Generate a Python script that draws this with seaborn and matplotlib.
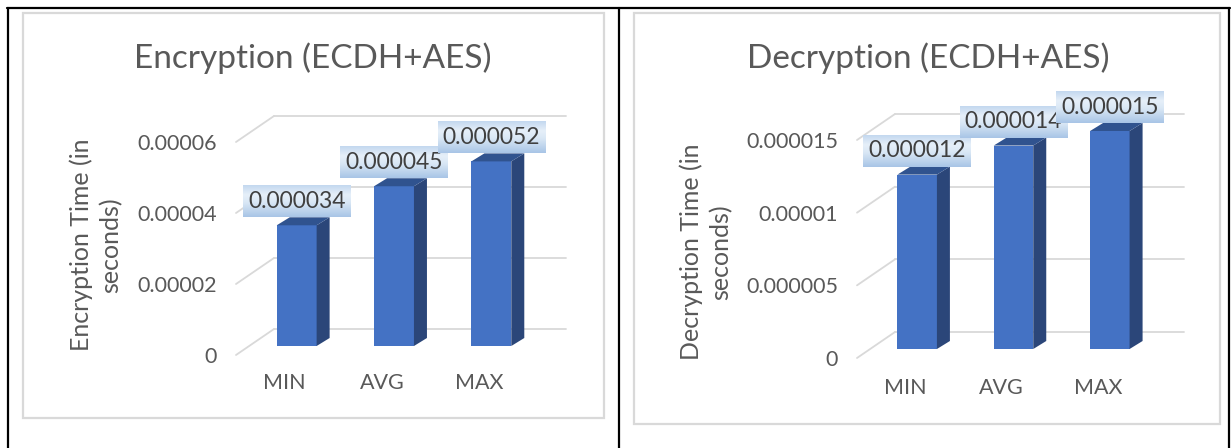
import matplotlib
matplotlib.use("Agg")
import numpy as np
import pandas as pd
import seaborn as sns
import matplotlib.pyplot as plt
from matplotlib.colors import to_rgb
from matplotlib.lines import Line2D
from matplotlib.patches import Polygon, Rectangle
from matplotlib.transforms import ScaledTranslation

# ---- data -------------------------------------------------------------
categories = ["MIN", "AVG", "MAX"]
enc_seconds = [0.000034, 0.000045, 0.000052]
dec_seconds = [0.000012, 0.000014, 0.000015]
enc_value_labels = ["0.000034", "0.000045", "0.000052"]
dec_value_labels = ["0.000012", "0.000014", "0.000015"]
enc_yticks = [0, 0.00002, 0.00004, 0.00006]
enc_yticklabels = ["0", "0.00002", "0.00004", "0.00006"]
dec_yticks = [0, 0.000005, 0.00001, 0.000015]
dec_yticklabels = ["0", "0.000005", "0.00001", "0.000015"]

# ---- style --------------------------------------------------------------
W, H, DPI = 1231, 448, 100
FRONT = "#4472C4"
SIDE = "#2B4679"
TOP = "#30538F"
GRID = "#D9D9D9"
TEXT = "#595959"
LABEL = "#404040"

sns.set_theme(style="white")
plt.rcParams["font.family"] = ["Lato", "DejaVu Sans"]

fig = plt.figure(figsize=(W / DPI, H / DPI), dpi=DPI, facecolor="white")


def shift(dx, dy):
    """Translation in pixels (dy positive = up)."""
    return ScaledTranslation(dx / DPI, dy / DPI, fig.dpi_scale_trans)


def rect_px(left, top, width, height):
    return [left / W, 1 - (top + height) / H, width / W, height / H]


BAR_SHIFT = (12, 9)      # bars sit a little behind the front plane
BACK_SHIFT = (38, 26)    # back wall carrying the gridlines
SIDE_DEPTH = (13, 8)     # depth of each column
LABEL_RISE = 26

label_texts = []


def draw_panel(axes_px, values, value_labels, yticks, yticklabels, ymax,
               title, title_xy, ylabel, ylabel_xy, xpad):
    ax = fig.add_axes(rect_px(*axes_px))
    df = pd.DataFrame({"category": categories, "seconds": values})
    sns.barplot(data=df, x="category", y="seconds", ax=ax, color=FRONT,
                saturation=1, width=0.41, linewidth=0, errorbar=None,
                zorder=3)
    ax.set_xlim(-0.5, len(categories) - 0.5)
    ax.set_ylim(0, ymax)
    ax.set_autoscale_on(False)
    ax.set_facecolor("none")
    ax.grid(False)
    sns.despine(ax=ax, left=True, bottom=True)
    ax.set_xlabel("")
    ax.set_ylabel("")

    to_data = ax.transData.inverted()
    bar_t = ax.transData + shift(*BAR_SHIFT)
    d = np.array(SIDE_DEPTH, dtype=float)

    # back-wall gridlines and the receding floor/side lines
    x0, x1 = ax.get_xlim()
    for y in yticks:
        ax.plot([x0, x1], [y, y], color=GRID, lw=1.3, zorder=1,
                clip_on=False, transform=ax.transData + shift(*BACK_SHIFT))
        p_front = ax.transData.transform((x0, y))
        p_back = p_front + np.array(BACK_SHIFT, dtype=float)
        seg = to_data.transform([p_front, p_back])
        ax.plot(seg[:, 0], seg[:, 1], color=GRID, lw=1.3, zorder=1,
                clip_on=False)

    # columns: front face from seaborn, side and top faces added
    for patch in list(ax.patches):
        bx0 = patch.get_x()
        bx1 = bx0 + patch.get_width()
        by = patch.get_height()
        patch.set_transform(bar_t)
        patch.set_clip_on(False)
        fb = bar_t.transform((bx1, 0))
        ft = bar_t.transform((bx1, by))
        tl = bar_t.transform((bx0, by))
        side = to_data.transform([fb, ft, ft + d, fb + d])
        top = to_data.transform([tl, ft, ft + d, tl + d])
        ax.add_patch(Polygon(side, closed=True, facecolor=SIDE,
                             edgecolor="none", zorder=3, clip_on=False))
        ax.add_patch(Polygon(top, closed=True, facecolor=TOP,
                             edgecolor="none", zorder=3, clip_on=False))

    # value labels
    for i, (v, lab) in enumerate(zip(values, value_labels)):
        t = ax.text(i, v, lab, ha="center", va="center_baseline",
                    fontsize=16.5, color=LABEL, zorder=11 + 2 * i,
                    clip_on=False,
                    transform=ax.transData + shift(BAR_SHIFT[0],
                                                   BAR_SHIFT[1] + LABEL_RISE))
        label_texts.append((ax, t, 10 + 2 * i))

    ax.set_yticks(yticks)
    ax.set_yticklabels(yticklabels)
    ax.tick_params(axis="y", length=0, pad=19 * 72 / DPI, labelsize=15.5,
                   labelcolor=TEXT)
    ax.tick_params(axis="x", length=0, pad=xpad * 72 / DPI, labelsize=15.5,
                   labelcolor=TEXT)

    fig.text(title_xy[0] / W, 1 - title_xy[1] / H, title, ha="center",
             va="center", fontsize=24, color=TEXT)
    fig.text(ylabel_xy[0] / W, 1 - ylabel_xy[1] / H, ylabel, ha="center",
             va="center", rotation=90, fontsize=18, color=TEXT,
             linespacing=1.3, multialignment="center")
    return ax


# chart frames and the surrounding table rules
fig.add_artist(Rectangle((23 / W, 1 - 418 / H), 581 / W, 405 / H,
                         transform=fig.transFigure, fill=False,
                         edgecolor=GRID, lw=1.6))
fig.add_artist(Rectangle((634 / W, 1 - 424 / H), 586 / W, 411 / H,
                         transform=fig.transFigure, fill=False,
                         edgecolor=GRID, lw=1.6))
for xpx in (8, 619, 1229):
    fig.add_artist(Line2D([xpx / W, xpx / W], [0, 1 - 8 / H],
                          transform=fig.transFigure, color="black", lw=1.6))
fig.add_artist(Line2D([7 / W, 1230 / W], [1 - 8 / H, 1 - 8 / H],
                      transform=fig.transFigure, color="black", lw=1.6))

axes = [
    draw_panel((236, 142, 292, 213), enc_seconds, enc_value_labels,
               enc_yticks, enc_yticklabels, 0.00006,
               "Encryption (ECDH+AES)", (313, 58),
               "Encryption Time (in\nseconds)", (96, 245), 18),
    draw_panel((857, 140, 289, 218), dec_seconds, dec_value_labels,
               dec_yticks, dec_yticklabels, 0.000015,
               "Decryption (ECDH+AES)", (928, 58),
               "Decryption Time (in\nseconds)", (706, 252), 20),
]

# gradient callout boxes behind the value labels
fig.canvas.draw()
renderer = fig.canvas.get_renderer()
stops = np.array([to_rgb("#C3D8EF"), to_rgb("#E6EFF9"), to_rgb("#D9E7F5"),
                  to_rgb("#A8C5E6")])
pos = np.array([0.0, 0.3, 0.55, 1.0])
rows = np.linspace(0, 1, 64)
grad = np.stack([np.interp(rows, pos, stops[:, c]) for c in range(3)],
                axis=-1)[:, None, :]
boxes = []
for ax, t, z in label_texts:
    bb = t.get_window_extent(renderer)
    cx, cy = (bb.x0 + bb.x1) / 2, (bb.y0 + bb.y1) / 2
    bw, bh = bb.width + 10, 32
    (dx0, dy0), (dx1, dy1) = ax.transData.inverted().transform(
        [(cx - bw / 2, cy - bh / 2), (cx + bw / 2, cy + bh / 2)])
    boxes.append((ax, (dx0, dx1, dy0, dy1), z))
for ax, ext, z in boxes:
    ax.imshow(grad, extent=ext, aspect="auto", origin="upper",
              interpolation="bilinear", zorder=z, clip_on=False)

for ax, ymax in zip(axes, (0.00006, 0.000015)):
    ax.set_xlim(-0.5, len(categories) - 0.5)
    ax.set_ylim(0, ymax)

fig.savefig("out.png", dpi=DPI, facecolor="white")
